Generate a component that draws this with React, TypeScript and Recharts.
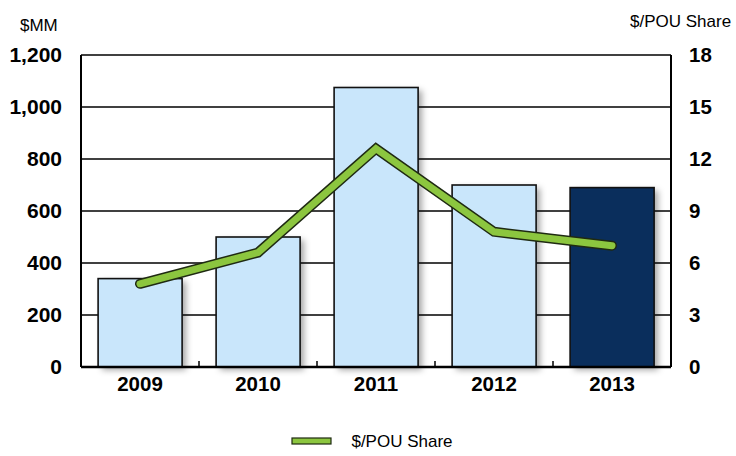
import React from 'react';
import { ComposedChart, Bar, Line, XAxis, YAxis, CartesianGrid, Cell, Legend } from 'recharts';

const years = ['2009', '2010', '2011', '2012', '2013'];
const spendMM = [340, 500, 1075, 700, 690];
const pouShare = [4.8, 6.6, 12.6, 7.8, 7.0];
const leftTicks = [0, 200, 400, 600, 800, 1000, 1200];
const rightTicks = [0, 3, 6, 9, 12, 15, 18];
const barFills = ['#c9e6fb', '#c9e6fb', '#c9e6fb', '#c9e6fb', '#0a2e5c'];

const data = years.map((y, i) => ({ year: y, spend: spendMM[i], share: pouShare[i] }));

const FONT = '"Liberation Sans", Arial, sans-serif';
const GREEN = '#8cc63f';
const DARK = '#1f2a12';

const ShadowBar = (props: any) => {
  const { x, y, width, height, fill, index } = props;
  const id = `bshadow${index}`;
  return (
    <g>
      <defs>
        <filter id={id} x="-20%" y="-20%" width="140%" height="140%">
          <feGaussianBlur stdDeviation="3" />
        </filter>
      </defs>
      <rect x={x + 4} y={y + 3} width={width} height={height} fill="rgba(0,0,0,0.35)" filter={`url(#${id})`} />
      <rect x={x} y={y} width={width} height={height} fill={fill} stroke="#111" strokeWidth={1.6} />
    </g>
  );
};

const XTick = (props: any) => {
  const { x, y, payload, index, visibleTicksCount } = props;
  const half = payload && payload.offset != null ? payload.offset : 59;
  return (
    <g>
      {index < visibleTicksCount - 1 && (
        <line x1={x + half} x2={x + half} y1={y} y2={y - 6} stroke="#000" strokeWidth={1.5} />
      )}
      <text x={x} y={y} dy={24} textAnchor="middle" fontFamily={FONT} fontWeight="bold" fontSize={20.5} fill="#000">
        {payload.value}
      </text>
    </g>
  );
};

const LegendContent = () => (
  <div style={{ height: 59, display: 'flex', alignItems: 'flex-end', justifyContent: 'center', paddingLeft: 8, boxSizing: 'border-box' }}>
    <div style={{ display: 'flex', alignItems: 'center', height: 20, marginBottom: 4 }}>
      <svg width={42} height={10} style={{ marginRight: 18 }}>
        <rect x={1} y={1} width={39} height={6} fill={GREEN} stroke={DARK} strokeWidth={1.2} />
      </svg>
      <span style={{ fontFamily: FONT, fontSize: 17, color: '#000' }}>$/POU Share</span>
    </div>
  </div>
);

export default function App() {
  return (
    <div style={{ position: 'absolute', left: 0, top: 0, width: 736, height: 456, background: '#fff' }}>
      <ComposedChart width={736} height={456} data={data} margin={{ top: 55, right: 0, bottom: 0, left: 0 }} barCategoryGap="14.5%">
        <CartesianGrid yAxisId="left" vertical={false} stroke="#000" strokeWidth={1.5} />
        <XAxis
          dataKey="year"
          height={30}
          axisLine={{ stroke: '#000', strokeWidth: 2.5 }}
          tickLine={false}
          tickSize={0}
          tickMargin={0}
          tick={<XTick />}
          interval={0}
        />
        <YAxis
          yAxisId="left"
          width={81}
          domain={[0, 1200]}
          ticks={leftTicks}
          interval={0}
          axisLine={{ stroke: '#000', strokeWidth: 2 }}
          tickLine={false}
          tickSize={0}
          tickMargin={19}
          tickFormatter={(v: number) => v.toLocaleString('en-US')}
          tick={{ fontFamily: FONT, fontWeight: 'bold', fontSize: 21, fill: '#000' }}
        />
        <YAxis
          yAxisId="right"
          orientation="right"
          width={65}
          domain={[0, 18]}
          ticks={rightTicks}
          interval={0}
          axisLine={{ stroke: '#000', strokeWidth: 2 }}
          tickLine={false}
          tickSize={0}
          tickMargin={18}
          tick={{ fontFamily: FONT, fontWeight: 'bold', fontSize: 20.5, fill: '#000' }}
        />
        <Bar yAxisId="left" dataKey="spend" shape={<ShadowBar />} isAnimationActive={false} legendType="none">
          {data.map((d, i) => (
            <Cell key={d.year} fill={barFills[i]} />
          ))}
        </Bar>
        <Line yAxisId="right" dataKey="share" stroke={DARK} strokeWidth={10} dot={false} activeDot={false} strokeLinecap="round" isAnimationActive={false} legendType="none" />
        <Line yAxisId="right" dataKey="share" name="$/POU Share" stroke={GREEN} strokeWidth={7} dot={false} activeDot={false} strokeLinecap="round" isAnimationActive={false} />
        <Legend verticalAlign="bottom" content={<LegendContent />} />
        <text x={20} y={31} fontFamily={FONT} fontSize={17} fill="#000">$MM</text>
        <text x={630} y={27} fontFamily={FONT} fontSize={17} fill="#000">$/POU Share</text>
      </ComposedChart>
    </div>
  );
}
